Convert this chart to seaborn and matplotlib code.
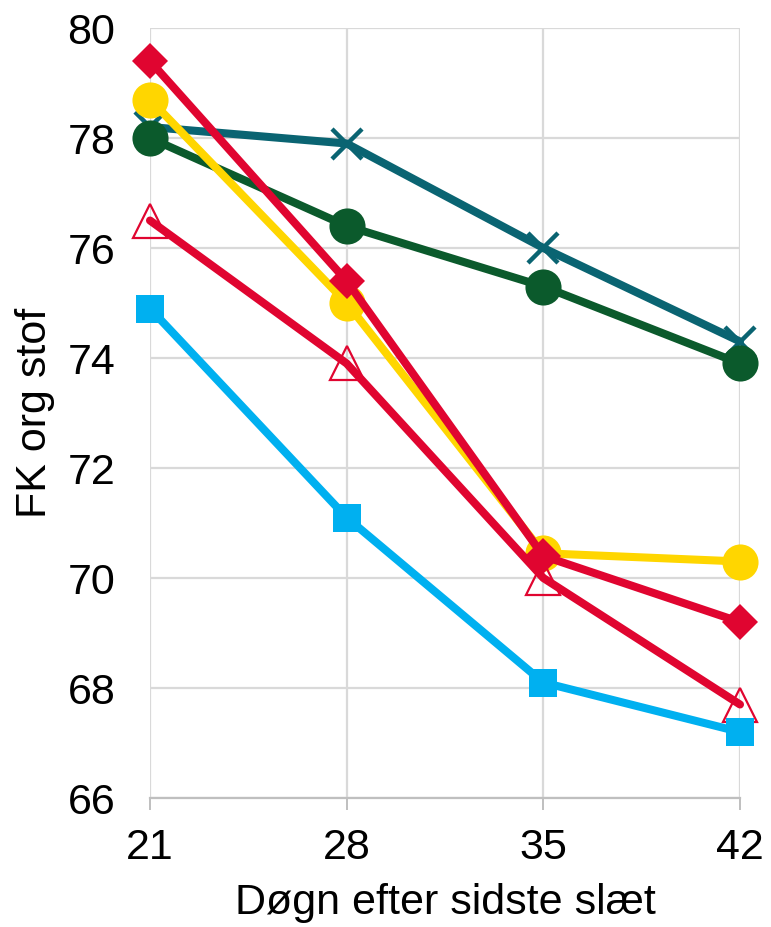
import matplotlib
matplotlib.use("Agg")
import matplotlib.pyplot as plt
import seaborn as sns
import pandas as pd

sns.set_style("white")
plt.rcParams["font.family"] = ["Liberation Sans", "DejaVu Sans"]
plt.rcParams.update({"text.color": "black", "axes.labelcolor": "black",
                     "xtick.color": "black", "ytick.color": "black"})

# ── data ────────────────────────────────────────────────────────────────────
days = [21, 28, 35, 42]

teal_x      = [78.2, 77.9, 76.0, 74.3]
green_circ  = [78.0, 76.4, 75.3, 73.9]
yellow_circ = [78.7, 75.0, 70.45, 70.3]
red_tri     = [76.5, 73.9, 70.0, 67.7]
red_diam    = [79.4, 75.4, 70.4, 69.2]
blue_sq     = [74.9, 71.1, 68.1, 67.2]

TEAL   = "#0A6472"
GREEN  = "#0B5A2C"
YELLOW = "#FFD600"
RED    = "#E00530"
BLUE   = "#00B0F0"
GRID   = "#D9D9D9"

series = [
    (teal_x,      dict(color=TEAL,   marker="x", ms=22, mew=3.2, mec=TEAL)),
    (green_circ,  dict(color=GREEN,  marker="o", ms=26, mew=0,   mec=GREEN)),
    (yellow_circ, dict(color=YELLOW, marker="o", ms=26, mew=0,   mec=YELLOW)),
    (red_tri,     dict(color=RED,    marker="^", ms=25, mew=1.6, mec=RED,
                       mfc="none")),
    (red_diam,    dict(color=RED,    marker="D", ms=18, mew=0,   mec=RED)),
    (blue_sq,     dict(color=BLUE,   marker="s", ms=20, mew=0,   mec=BLUE)),
]

fig = plt.figure(figsize=(7.71, 9.27), dpi=100)
ax = fig.add_axes([150 / 771, 1 - 798 / 927, 590 / 771, 770 / 927])

for vals, style in series:
    df = pd.DataFrame({"x": days, "y": vals})
    sns.lineplot(data=df, x="x", y="y", ax=ax, clip_on=False, lw=5.8,
                 solid_joinstyle="round", **style)

ax.set_xlim(21, 42)
ax.set_ylim(66, 80)
ax.set_xticks(days)
ax.set_yticks(range(66, 81, 2))
ax.grid(True, color=GRID, lw=1.6)
ax.set_axisbelow(True)

for side in ["top", "right", "left"]:
    ax.spines[side].set_visible(False)
ax.spines["bottom"].set_color("#BFBFBF")
ax.spines["bottom"].set_linewidth(1.6)

ax.tick_params(axis="y", length=0, pad=25, labelsize=31)
ax.tick_params(axis="x", length=8.5, width=1.4, color="#BFBFBF",
               labelcolor="black", pad=13, labelsize=31, direction="out",
               bottom=True)

ax.set_xlabel("Døgn efter sidste slæt", fontsize=31, labelpad=11)
ax.set_ylabel("FK org stof", fontsize=31, labelpad=9)

fig.savefig("out.png", dpi=100)
